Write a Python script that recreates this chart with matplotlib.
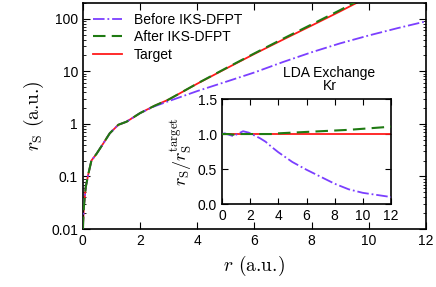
import numpy as np
import matplotlib
matplotlib.use("Agg")
import matplotlib.pyplot as plt

plt.rcParams['font.family'] = ['Liberation Sans', 'DejaVu Sans']
plt.rcParams['mathtext.fontset'] = 'cm'
plt.rcParams['axes.unicode_minus'] = False

# main panel: r_S(r) for Kr, LDA exchange
r_main = [0.0, 0.035, 0.1, 0.19, 0.3, 0.48, 0.71, 0.94, 1.24, 1.53, 2.0, 2.5,
          3.0, 4.0, 5.0, 6.0, 7.0, 8.0, 9.0, 10.0, 11.0, 12.0]
rs_target = [0.01, 0.026, 0.062, 0.11, 0.2, 0.27, 0.42, 0.66, 0.96, 1.1, 1.6, 2.2,
             2.9, 5.8, 11.2, 21.4, 40, 74, 138, 263, 500, 930]
rs_after = [0.01, 0.026, 0.062, 0.11, 0.2, 0.27, 0.42, 0.66, 0.96, 1.1, 1.6, 2.2,
            2.9, 5.85, 11.4, 21.9, 41.6, 77.7, 146, 281, 540, 1020]
rs_before = [0.01, 0.026, 0.062, 0.11, 0.2, 0.27, 0.42, 0.66, 0.96, 1.1, 1.6, 2.15,
             2.7, 4.2, 6.3, 9.5, 15.0, 23, 34, 48, 66, 89]

# inset: ratio to target
r_in = [0.0, 0.2, 0.5, 0.8, 1.1, 1.5, 1.9, 2.3, 2.7, 3.1, 3.5, 4.0, 5.0, 6.0,
        7.0, 8.0, 9.0, 10.0, 11.0, 12.0]
ratio_before = [1.0, 1.01, 0.99, 0.97, 1.0, 1.04, 1.02, 0.98, 0.94, 0.89, 0.82,
                0.74, 0.6, 0.49, 0.39, 0.29, 0.21, 0.16, 0.13, 0.10]
ratio_after = [1.0, 1.0, 1.0, 0.99, 1.0, 1.0, 1.0, 1.0, 1.0, 1.0, 1.0, 1.01,
               1.02, 1.03, 1.04, 1.05, 1.06, 1.075, 1.09, 1.105]
ratio_target = [1.0] * len(r_in)

c_before = '#7b3fff'
c_after = '#1f7a12'
c_target = '#ff1a1a'

fig = plt.figure(figsize=(4.36, 2.87), dpi=100)
ax = fig.add_axes([0.190, 0.202, 0.787, 0.788])

ax.plot(r_main, rs_target, color=c_target, lw=1.3, zorder=2)
ax.plot(r_main, rs_before, color=c_before, lw=1.3, ls='-.', zorder=3, label='Before IKS-DFPT')
ax.plot(r_main, rs_after, color=c_after, lw=1.5, ls=(0, (6, 3)), zorder=4, label='After IKS-DFPT')
ax.plot([], [], color=c_target, lw=1.3, label='Target')

ax.set_yscale('log')
ax.set_xlim(0, 12)
ax.set_ylim(0.01, 200)
ax.set_xticks(range(0, 13, 2))
ax.set_yticks([0.01, 0.1, 1, 10, 100])
ax.set_yticklabels(['0.01', '0.1', '1', '10', '100'])
ax.tick_params(which='both', direction='in', top=True, right=True, labelsize=10)
ax.tick_params(which='major', length=5)
ax.tick_params(which='minor', length=2.5)
for s in ax.spines.values():
    s.set_linewidth(1.2)
ax.set_xlabel(r'$r$ (a.u.)', fontsize=14, family='cmr10')
ax.set_ylabel(r'$r_{\rm S}$ (a.u.)', fontsize=14, family='cmr10')

ax.legend(loc='upper left', frameon=False, fontsize=10, handlelength=2.1,
          handletextpad=0.9, labelspacing=0.25, borderaxespad=0.3)

fig.text(0.755, 0.747, 'LDA Exchange', ha='center', va='center', fontsize=10)
fig.text(0.757, 0.700, 'Kr', ha='center', va='center', fontsize=10)

ins = fig.add_axes([0.509, 0.289, 0.388, 0.366])
ins.plot(r_in, ratio_target, color=c_target, lw=1.3, zorder=2)
ins.plot(r_in, ratio_before, color=c_before, lw=1.3, ls='-.', zorder=3)
ins.plot(r_in, ratio_after, color=c_after, lw=1.5, ls=(0, (6, 3)), zorder=4)
ins.set_xlim(0, 12)
ins.set_ylim(0, 1.5)
ins.set_xticks(range(0, 13, 2))
ins.set_yticks([0.0, 0.5, 1.0, 1.5])
ins.tick_params(direction='in', top=True, right=True, labelsize=10, length=4)
for s in ins.spines.values():
    s.set_linewidth(1.2)
ins.set_ylabel(r'$r_{\rm S}/r_{\rm S}^{\rm target}$', fontsize=13, labelpad=2)

fig.savefig('out.png', dpi=100)
